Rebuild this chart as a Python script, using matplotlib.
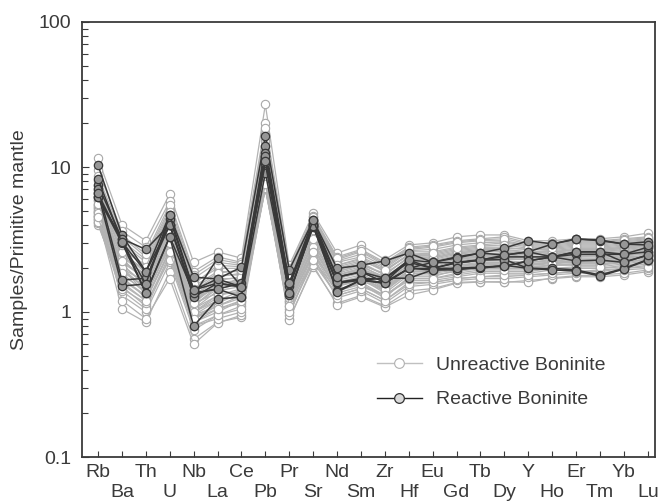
import matplotlib
matplotlib.use('Agg')
import matplotlib.pyplot as plt
from matplotlib.ticker import LogLocator, NullFormatter
from matplotlib.lines import Line2D

plt.rcParams['font.family'] = ['Liberation Sans', 'DejaVu Sans']

elements = ['Rb', 'Ba', 'Th', 'U', 'Nb', 'La', 'Ce', 'Pb', 'Pr', 'Sr', 'Nd', 'Sm',
            'Zr', 'Hf', 'Eu', 'Gd', 'Tb', 'Dy', 'Y', 'Ho', 'Er', 'Tm', 'Yb', 'Lu']

# Unreactive boninite samples (primitive-mantle normalised)
u01 = [11.5, 4.0, 3.1, 6.5, 2.2, 2.6, 2.35, 27, 2.1, 4.8, 2.55, 2.9, 2.3, 2.9, 3.0, 3.3, 3.4, 3.4, 3.1, 3.1, 3.2, 3.2, 3.3, 3.5]
u02 = [9.5, 3.6, 2.8, 5.8, 1.9, 2.4, 2.2, 20, 2.0, 4.6, 2.4, 2.7, 2.2, 2.8, 2.9, 3.1, 3.2, 3.3, 3.0, 3.0, 3.1, 3.1, 3.2, 3.3]
u03 = [8.0, 3.3, 2.4, 5.2, 1.7, 2.2, 2.1, 17, 1.9, 4.4, 2.3, 2.6, 2.1, 2.7, 2.8, 3.0, 3.1, 3.1, 2.9, 2.9, 3.0, 3.0, 3.1, 3.2]
u04 = [7.0, 3.0, 2.2, 4.8, 1.6, 2.0, 2.0, 14, 1.8, 4.2, 2.2, 2.4, 2.0, 2.6, 2.6, 2.8, 2.9, 3.0, 2.8, 2.8, 2.9, 2.9, 3.0, 3.1]
u05 = [6.5, 2.8, 2.0, 4.5, 1.5, 1.9, 1.9, 12, 1.7, 4.0, 2.1, 2.3, 1.9, 2.5, 2.5, 2.7, 2.8, 2.8, 2.7, 2.7, 2.8, 2.8, 2.9, 3.0]
u06 = [6.0, 2.6, 1.9, 4.2, 1.4, 1.8, 1.8, 11, 1.6, 3.8, 2.0, 2.2, 1.8, 2.4, 2.4, 2.6, 2.7, 2.7, 2.6, 2.6, 2.7, 2.7, 2.8, 2.9]
u07 = [5.6, 2.4, 1.8, 4.0, 1.3, 1.7, 1.7, 10, 1.55, 3.6, 1.9, 2.1, 1.7, 2.3, 2.3, 2.5, 2.6, 2.6, 2.5, 2.5, 2.6, 2.6, 2.7, 2.8]
u08 = [5.3, 2.2, 1.7, 3.7, 1.2, 1.6, 1.65, 9.5, 1.5, 3.4, 1.8, 2.0, 1.65, 2.2, 2.2, 2.4, 2.5, 2.5, 2.4, 2.45, 2.5, 2.5, 2.6, 2.7]
u09 = [5.0, 2.0, 1.6, 3.5, 1.1, 1.5, 1.6, 9.0, 1.45, 3.2, 1.75, 1.9, 1.6, 2.1, 2.1, 2.3, 2.4, 2.4, 2.35, 2.4, 2.45, 2.45, 2.5, 2.6]
u10 = [4.8, 1.9, 1.5, 3.3, 1.05, 1.4, 1.5, 8.5, 1.4, 3.0, 1.7, 1.85, 1.5, 2.0, 2.0, 2.2, 2.3, 2.3, 2.3, 2.3, 2.4, 2.4, 2.45, 2.5]
u11 = [4.6, 1.8, 1.4, 3.1, 1.0, 1.3, 1.45, 8.0, 1.35, 2.9, 1.65, 1.8, 1.45, 1.95, 1.95, 2.1, 2.2, 2.2, 2.2, 2.25, 2.3, 2.3, 2.4, 2.45]
u12 = [4.4, 1.7, 1.3, 2.9, 0.95, 1.2, 1.4, 7.6, 1.3, 2.7, 1.6, 1.75, 1.4, 1.9, 1.9, 2.0, 2.1, 2.1, 2.1, 2.2, 2.2, 2.2, 2.3, 2.4]
u13 = [4.2, 1.6, 1.2, 2.7, 0.9, 1.1, 1.3, 7.3, 1.2, 2.5, 1.5, 1.7, 1.35, 1.8, 1.8, 1.9, 2.0, 2.0, 2.0, 2.1, 2.1, 2.1, 2.2, 2.3]
u14 = [4.0, 1.5, 1.1, 2.5, 0.85, 1.0, 1.2, 7.0, 1.1, 2.3, 1.4, 1.6, 1.3, 1.7, 1.7, 1.8, 1.9, 1.9, 1.9, 2.0, 2.0, 2.0, 2.1, 2.2]
u15 = [4.3, 1.3, 1.0, 2.2, 0.75, 0.95, 1.1, 7.2, 1.0, 2.2, 1.3, 1.45, 1.2, 1.6, 1.6, 1.7, 1.75, 1.75, 1.8, 1.85, 1.9, 1.9, 2.0, 2.1]
u16 = [4.5, 1.05, 0.85, 1.9, 0.65, 0.85, 0.92, 7.5, 0.9, 2.04, 1.15, 1.3, 1.1, 1.4, 1.45, 1.6, 1.62, 1.6, 1.65, 1.7, 1.75, 1.75, 1.8, 1.9]
u17 = [5.5, 1.2, 0.9, 1.7, 0.6, 0.84, 0.95, 8.0, 0.88, 2.1, 1.12, 1.27, 1.08, 1.31, 1.42, 1.58, 1.61, 1.62, 1.6, 1.72, 1.78, 1.8, 1.85, 1.95]
u18 = [6.8, 2.5, 1.75, 3.0, 1.15, 1.6, 1.55, 10.5, 1.45, 3.5, 1.8, 1.95, 1.75, 2.25, 2.15, 2.35, 2.45, 2.55, 2.45, 2.55, 2.6, 2.6, 2.65, 2.75]
u19 = [5.8, 2.1, 1.55, 3.8, 1.25, 1.45, 1.75, 9.2, 1.6, 3.3, 1.85, 2.05, 1.75, 2.05, 2.25, 2.45, 2.55, 2.5, 2.5, 2.5, 2.55, 2.65, 2.75, 2.85]
u20 = [5.2, 1.95, 1.45, 4.4, 1.15, 1.35, 1.35, 8.7, 1.25, 2.8, 1.55, 1.65, 1.45, 1.85, 1.85, 2.05, 2.15, 2.15, 2.15, 2.2, 2.25, 2.3, 2.35, 2.4]
u21 = [4.7, 2.3, 1.65, 3.6, 1.0, 1.25, 1.25, 8.2, 1.15, 2.6, 1.45, 1.55, 1.25, 1.75, 1.75, 1.95, 2.0, 2.05, 2.05, 2.1, 2.15, 2.15, 2.25, 2.3]
u22 = [6.2, 2.7, 2.1, 4.6, 1.35, 1.75, 1.85, 11.5, 1.65, 3.9, 2.05, 2.25, 1.95, 2.45, 2.45, 2.65, 2.75, 2.75, 2.7, 2.65, 2.75, 2.75, 2.85, 2.95]
u23 = [4.1, 1.4, 1.05, 2.4, 0.8, 0.9, 1.0, 7.1, 0.95, 2.4, 1.25, 1.4, 1.15, 1.5, 1.55, 1.65, 1.7, 1.7, 1.75, 1.8, 1.85, 1.85, 1.95, 2.0]
u24 = [7.5, 3.1, 2.3, 5.0, 1.55, 2.1, 2.05, 15, 1.85, 4.3, 2.25, 2.5, 2.05, 2.65, 2.7, 2.9, 3.0, 3.05, 2.85, 2.85, 2.95, 2.95, 3.05, 3.15]
u25 = [5.4, 2.0, 1.35, 3.2, 0.9, 1.15, 1.35, 9.8, 1.3, 3.1, 1.6, 1.75, 1.55, 2.0, 2.0, 2.15, 2.25, 2.25, 2.2, 2.3, 2.35, 2.35, 2.45, 2.55]
u26 = [4.9, 1.75, 1.25, 2.6, 0.85, 1.05, 1.15, 7.8, 1.05, 2.5, 1.35, 1.5, 1.3, 1.65, 1.65, 1.75, 1.85, 1.85, 1.85, 1.95, 2.0, 2.0, 2.05, 2.15]
u27 = [5.1, 2.5, 1.95, 4.1, 1.25, 1.55, 1.6, 9.3, 1.5, 3.7, 1.9, 2.1, 1.85, 2.35, 2.35, 2.55, 2.65, 2.6, 2.55, 2.6, 2.65, 2.65, 2.75, 2.85]
u28 = [4.6, 2.15, 1.5, 3.4, 1.1, 1.45, 1.55, 8.8, 1.4, 3.3, 1.7, 1.9, 1.6, 2.1, 2.05, 2.25, 2.35, 2.35, 2.3, 2.35, 2.4, 2.45, 2.5, 2.6]
u29 = [6.3, 2.35, 1.6, 3.9, 1.2, 1.5, 1.65, 10.2, 1.5, 3.5, 1.8, 2.0, 1.7, 2.15, 2.2, 2.35, 2.45, 2.45, 2.4, 2.45, 2.5, 2.55, 2.6, 2.7]
u30 = [4.4, 1.65, 1.3, 2.8, 0.95, 1.1, 1.25, 7.4, 1.2, 2.7, 1.5, 1.65, 1.4, 1.85, 1.85, 1.95, 2.05, 2.05, 2.05, 2.1, 2.15, 2.15, 2.2, 2.3]
u31 = [8.7, 3.4, 2.5, 5.5, 1.8, 2.3, 2.15, 18.5, 1.95, 4.5, 2.35, 2.65, 2.15, 2.75, 2.85, 3.05, 3.15, 3.2, 2.95, 2.95, 3.05, 3.05, 3.15, 3.25]
u32 = [5.9, 2.0, 1.45, 3.0, 1.05, 1.3, 1.4, 9.0, 1.3, 3.0, 1.55, 1.75, 1.5, 1.9, 1.95, 2.1, 2.15, 2.2, 2.15, 2.2, 2.25, 2.3, 2.35, 2.45]
u33 = [4.2, 1.45, 1.15, 2.3, 0.8, 0.95, 1.05, 7.2, 1.0, 2.3, 1.3, 1.45, 1.2, 1.55, 1.6, 1.7, 1.75, 1.8, 1.8, 1.85, 1.9, 1.95, 2.0, 2.05]
u34 = [5.0, 2.6, 1.85, 4.3, 1.3, 1.65, 1.75, 9.9, 1.55, 3.7, 1.95, 2.15, 1.8, 2.4, 2.35, 2.55, 2.65, 2.65, 2.6, 2.6, 2.7, 2.7, 2.8, 2.9]
u35 = [4.8, 1.85, 1.35, 3.0, 1.0, 1.2, 1.3, 8.1, 1.25, 2.8, 1.55, 1.7, 1.45, 1.9, 1.9, 2.05, 2.1, 2.15, 2.1, 2.15, 2.2, 2.25, 2.3, 2.35]
u36 = [7.2, 2.9, 2.05, 4.9, 1.45, 1.85, 1.95, 12.8, 1.75, 4.1, 2.1, 2.35, 1.95, 2.5, 2.55, 2.75, 2.85, 2.9, 2.75, 2.75, 2.85, 2.85, 2.95, 3.05]
u37 = [4.5, 1.55, 1.2, 2.6, 0.9, 1.05, 1.2, 7.6, 1.1, 2.6, 1.4, 1.55, 1.3, 1.7, 1.7, 1.85, 1.95, 1.95, 1.95, 2.0, 2.05, 2.05, 2.15, 2.25]
u38 = [5.6, 2.25, 1.7, 3.5, 1.15, 1.55, 1.5, 9.4, 1.45, 3.2, 1.75, 1.95, 1.65, 2.2, 2.15, 2.3, 2.4, 2.4, 2.35, 2.4, 2.45, 2.5, 2.55, 2.65]

# Reactive boninite samples
r1 = [7.5, 3.2, 2.7, 4.0, 1.3, 2.35, 1.5, 12, 1.5, 4.0, 1.6, 1.7, 1.7, 2.2, 2.0, 2.2, 2.3, 2.4, 2.4, 2.4, 2.5, 2.5, 2.5, 2.6]
r2 = [6.2, 3.0, 1.35, 3.3, 0.8, 1.23, 1.27, 9.1, 1.35, 3.9, 1.4, 1.66, 1.6, 2.0, 2.0, 2.0, 2.0, 2.1, 2.0, 2.0, 1.95, 1.8, 2.0, 2.3]
r3 = [10.3, 3.4, 1.9, 4.7, 1.74, 1.69, 2.04, 16.3, 1.95, 4.3, 2.0, 2.1, 2.25, 2.55, 2.2, 2.4, 2.55, 2.76, 3.1, 2.95, 3.2, 3.1, 2.95, 3.05]
r4 = [6.6, 1.51, 1.56, 4.4, 1.42, 1.58, 1.49, 13.9, 1.58, 4.05, 1.74, 1.89, 1.6, 2.28, 2.0, 2.18, 2.28, 2.47, 2.6, 2.4, 2.6, 2.6, 2.5, 2.8]
r5 = [7.1, 1.66, 1.71, 3.98, 1.35, 1.44, 1.58, 12.5, 1.58, 3.86, 1.58, 1.66, 1.71, 1.71, 1.95, 1.95, 2.04, 2.07, 2.25, 2.4, 2.25, 2.28, 2.2, 2.47]
r6 = [8.3, 3.04, 1.89, 4.0, 1.27, 1.58, 1.49, 10.6, 1.31, 4.05, 1.37, 1.66, 1.58, 2.0, 2.2, 2.18, 2.28, 2.3, 2.0, 1.95, 1.92, 1.77, 1.98, 2.28]
r7 = [6.2, 3.2, 1.35, 3.3, 1.35, 1.44, 1.27, 12, 1.35, 3.9, 1.6, 1.66, 1.58, 2.0, 1.95, 2.0, 2.04, 2.07, 2.25, 2.4, 2.6, 2.6, 2.21, 2.47]
r8 = [6.6, 3.04, 1.56, 4.67, 1.42, 1.69, 1.49, 11, 1.58, 4.3, 1.74, 1.89, 1.71, 2.28, 2.21, 2.36, 2.55, 2.47, 2.6, 2.94, 3.18, 3.14, 2.94, 2.9]

unreactive = [u01, u02, u03, u04, u05, u06, u07, u08, u09, u10, u11, u12, u13,
              u14, u15, u16, u17, u18, u19, u20, u21, u22, u23, u24, u25, u26,
              u27, u28, u29, u30, u31, u32, u33, u34, u35, u36, u37, u38]
reactive = [r1, r2, r3, r4, r5, r6, r7, r8]

ytick_vals = [0.1, 1, 10, 100]
ytick_labels = ['0.1', '1', '10', '100']
legend_labels = ['Unreactive Boninite', 'Reactive Boninite']
ylabel = 'Samples/Primitive mantle'

TXT = '#3a3a3a'
W, H = 659, 504
fig = plt.figure(figsize=(W / 100, H / 100), dpi=100)
ax = fig.add_axes([82 / W, 1 - 457 / H, (655 - 82) / W, (457 - 22) / H])

x = list(range(len(elements)))
for s in unreactive:
    ax.plot(x, s, color='#b3b3b3', lw=0.9, marker='o', ms=6, mfc='white',
            mec='#a8a8a8', mew=0.8, zorder=2)
for s in reactive:
    ax.plot(x, s, color='#383838', lw=1.1, marker='o', ms=6, mfc='#969696',
            mec='#383838', mew=0.9, zorder=3)

ax.set_yscale('log')
ax.set_ylim(0.1, 100)
ax.set_xlim(-0.67, 23.3)
ax.set_yticks(ytick_vals)
ax.set_yticklabels(ytick_labels)
ax.yaxis.set_minor_locator(LogLocator(base=10, subs=range(2, 10)))
ax.yaxis.set_minor_formatter(NullFormatter())

ax.set_xticks(x[0::2], labels=elements[0::2])
ax.set_xticks(x[1::2], labels=elements[1::2], minor=True)

ax.tick_params(axis='both', which='both', direction='in', color=TXT,
               labelcolor=TXT, labelsize=14, width=0.8)
ax.tick_params(axis='y', which='major', length=5, pad=8)
ax.tick_params(axis='y', which='minor', length=4)
ax.tick_params(axis='x', which='both', length=4)
ax.tick_params(axis='x', which='major', pad=5)
ax.tick_params(axis='x', which='minor', pad=19.5)

for sp in ax.spines.values():
    sp.set_color(TXT)
    sp.set_linewidth(1.3)

ax.set_ylabel(ylabel, fontsize=14, color=TXT)
ax.yaxis.set_label_coords(-0.094, 0.5)

handles = [
    Line2D([], [], color='#c0c0c0', lw=1.0, marker='o', ms=7, mfc='white', mec='#b0b0b0', mew=0.8),
    Line2D([], [], color='#222222', lw=1.0, marker='o', ms=7, mfc='#d9d9d9', mec='#333333', mew=0.9),
]
leg = ax.legend(handles, legend_labels, loc='center left',
                bbox_to_anchor=(377 / W, 1 - 382.5 / H), bbox_transform=fig.transFigure,
                frameon=False, fontsize=14, handlelength=2.3, handletextpad=0.75,
                labelspacing=0.85, borderpad=0, borderaxespad=0)
for t in leg.get_texts():
    t.set_color(TXT)

fig.savefig('out.png', dpi=100)
